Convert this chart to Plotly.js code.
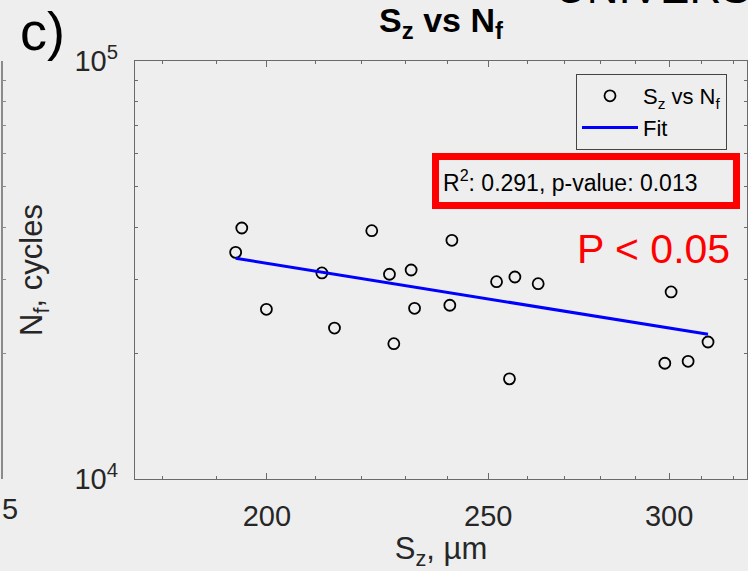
<!DOCTYPE html>
<html><head><meta charset="utf-8">
<script src="https://cdn.plot.ly/plotly-3.0.1.min.js"></script>
<style>html,body{margin:0;padding:0;background:#eeeeee;} #chart{width:748px;height:571px;}</style>
</head><body><div id="chart"></div>
<script>
// ---- data ----
const szValues = [195.0, 193.8, 199.9, 211.4, 214.1, 222.3, 226.3, 227.3, 231.3, 232.1,
                  241.0, 240.5, 252.1, 256.8, 262.9, 255.4, 300.6, 298.7, 305.8, 312.0];
const nfValues = [39860, 34850, 25470, 31110, 22970, 39270, 30890, 21070, 31620, 25610,
                  37240, 26040, 29650, 30430, 29330, 17360, 28020, 18920, 19120, 21270];
const fitSz = [193.8, 312.0];
const fitNf = [33730, 22190];
const rSquared = 0.291;
const pValue = 0.013;
const xTickVals = [200, 250, 300];
const xTickText = ['200', '250', '300'];
const xMinorVals = [180, 190, 210, 220, 230, 240, 260, 270, 280, 290, 310, 320];
const yTickVals = [1e4, 1e5];
const yTickText = ['10<sup>4</sup>', '10<sup>5</sup>'];
const yMinorVals = [2e4, 3e4, 4e4, 5e4, 6e4, 7e4, 8e4, 9e4];
const xRange = [175.1, 324.5];
const yRange = [1e4, 1e5];

// ---- layout geometry ----
const W = 748, H = 571, L = 135, R = 747, T = 61, B = 479;
const FONT = 'Liberation Sans, Arial, Helvetica, sans-serif';
const axisColor = '#6a6a6a';
const textColor = '#262626';
const py = v => (B - v) / (B - T);   // pixel row -> paper y
const px = v => v / W;               // pixel column -> paper x

const traces = [
  {
    x: szValues, y: nfValues, type: 'scatter', mode: 'markers',
    name: 'S<sub>z</sub> vs N<sub>f</sub>',
    marker: {symbol: 'circle-open', size: 11, color: '#000000', line: {width: 1.8, color: '#000000'}}
  },
  {
    x: fitSz, y: fitNf, type: 'scatter', mode: 'lines', name: 'Fit',
    line: {color: '#0000ff', width: 3}
  },
  {
    x: [xRange[0]], y: [yRange[0]], yaxis: 'y2', type: 'scatter', mode: 'markers',
    marker: {opacity: 0}, showlegend: false, hoverinfo: 'skip'
  }
];

const layout = {
  width: W, height: H,
  paper_bgcolor: '#eeeeee', plot_bgcolor: '#eeeeee',
  margin: {l: 0, r: 0, t: T, b: H - B, pad: 0},
  font: {family: FONT, color: textColor},
  showlegend: true,
  title: {
    text: '<b>S<sub>z</sub> vs N<sub>f</sub></b>',
    font: {family: FONT, size: 34, color: '#000000'},
    x: (L + R) / 2 / W, xanchor: 'center', xref: 'paper',
    y: 1 - 20 / H, yanchor: 'middle', yref: 'container'
  },
  xaxis: {
    type: 'log', domain: [L / W, R / W],
    range: [Math.log10(xRange[0]), Math.log10(xRange[1])],
    tickmode: 'array', tickvals: xTickVals, ticktext: xTickText,
    ticks: 'inside', ticklen: 6, tickwidth: 1, tickcolor: axisColor,
    minor: {tickmode: 'array', tickvals: xMinorVals, ticks: 'inside', ticklen: 3, tickwidth: 1, tickcolor: axisColor, showgrid: false},
    showline: true, linecolor: axisColor, linewidth: 1.2, mirror: 'ticks',
    showgrid: false, zeroline: false,
    tickfont: {family: FONT, size: 29, color: textColor},
    ticklabelstandoff: 11,
    title: {text: 'S<sub>z</sub>, µm', font: {family: FONT, size: 31, color: textColor}, standoff: 4},
    automargin: false
  },
  yaxis: {
    type: 'log', domain: [0, 1],
    range: [Math.log10(yRange[0]), Math.log10(yRange[1])],
    tickmode: 'array', tickvals: yTickVals, ticktext: yTickText,
    ticks: 'inside', ticklen: 6, tickwidth: 1, tickcolor: axisColor,
    minor: {tickmode: 'array', tickvals: yMinorVals, ticks: 'inside', ticklen: 3, tickwidth: 1, tickcolor: axisColor, showgrid: false},
    showline: true, linecolor: axisColor, linewidth: 1.2, mirror: 'ticks',
    showgrid: false, zeroline: false,
    tickfont: {family: FONT, size: 29, color: textColor},
    ticklabelstandoff: 10,
    title: {text: 'N<sub>f</sub>, cycles', font: {family: FONT, size: 31, color: textColor}, standoff: 22},
    automargin: false
  },
  yaxis2: {
    type: 'log', overlaying: 'y', anchor: 'free', position: 0.003, side: 'left',
    range: [Math.log10(yRange[0]), Math.log10(yRange[1])],
    tickmode: 'array', tickvals: yMinorVals, ticks: 'inside', ticklen: 3, tickcolor: '#8a8a8a',
    showticklabels: false, showline: true, linecolor: '#8a8a8a', linewidth: 2,
    showgrid: false, zeroline: false
  },
  legend: {
    x: px(576), y: py(74), xanchor: 'left', yanchor: 'top',
    bgcolor: '#eeeeee', bordercolor: '#444444', borderwidth: 1,
    font: {family: FONT, size: 22, color: '#000000'},
    itemwidth: 56, tracegroupgap: 0
  },
  annotations: [
    {
      text: 'R<sup>2</sup>: ' + rSquared.toFixed(3) + ', p-value: ' + pValue.toFixed(3),
      xref: 'paper', yref: 'paper',
      x: px(586), y: py(181), xanchor: 'center', yanchor: 'middle',
      showarrow: false, align: 'left', width: 286, height: 34,
      font: {family: FONT, size: 23, color: '#000000'},
      bordercolor: '#ff0000', borderwidth: 7, borderpad: 4, bgcolor: '#eeeeee'
    },
    {
      text: 'P &lt; 0.05', xref: 'paper', yref: 'paper',
      x: px(575), y: py(249), xanchor: 'left', yanchor: 'middle',
      showarrow: false, font: {family: FONT, size: 41, color: '#ff0000'}
    },
    {
      text: 'c)', xref: 'paper', yref: 'paper',
      x: px(18), y: py(31), xanchor: 'left', yanchor: 'middle',
      showarrow: false, font: {family: FONT, size: 54, color: '#000000'}
    },
    {
      text: 'UNIVERSITY', xref: 'paper', yref: 'paper',
      x: px(553), y: py(-12), xanchor: 'left', yanchor: 'middle',
      showarrow: false, font: {family: FONT, size: 44, color: '#000000'}
    },
    {
      text: '5', xref: 'paper', yref: 'paper',
      x: 0, y: py(509), xanchor: 'left', yanchor: 'middle',
      showarrow: false, font: {family: FONT, size: 29, color: textColor}
    }
  ]
};

Plotly.newPlot('chart', traces, layout, {displayModeBar: false, staticPlot: true});
</script>
</body></html>
